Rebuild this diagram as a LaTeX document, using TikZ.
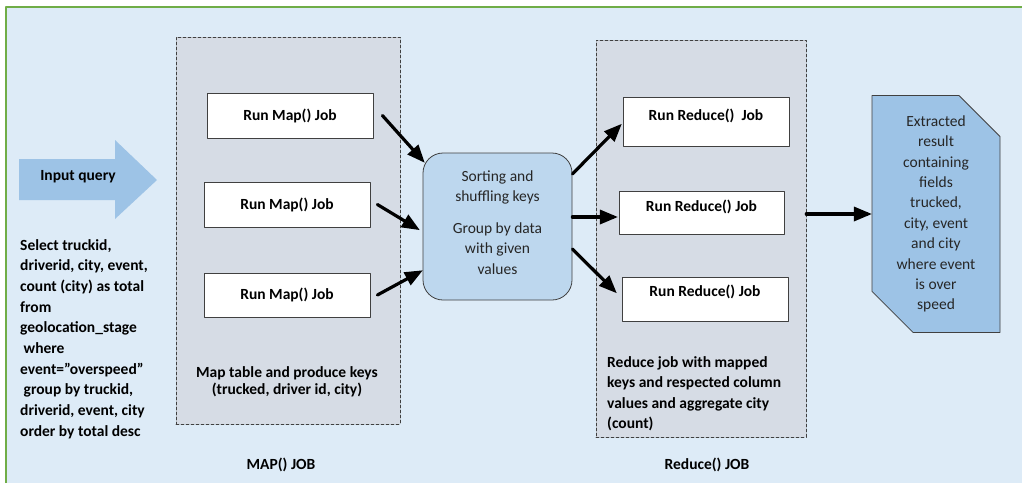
\documentclass[tikz,border=0pt]{standalone}
\usepackage{fontspec}
\setmainfont{Carlito}
\usepackage{tikz}
\usetikzlibrary{arrows}
\usetikzlibrary{positioning}
\usetikzlibrary{calc}
\usetikzlibrary{shapes.misc}
\definecolor{bgblue}{RGB}{221,235,247}
\definecolor{grpgray}{RGB}{214,220,229}
\definecolor{sortblue}{RGB}{189,215,238}
\definecolor{resblue}{RGB}{157,195,230}
\definecolor{edgegreen}{RGB}{112,173,71}
\definecolor{edgegray}{RGB}{64,64,64}
\begin{document}
\begin{tikzpicture}[line cap=round,line join=round,>=triangle 45,x=1pt,y=-1pt,
  jobbox/.style={draw=edgegray,line width=0.8pt,fill=white,inner sep=0pt,font=\bfseries\fontsize{15.5}{18}\selectfont},
  grpbox/.style={draw=edgegray,densely dashed,line width=0.6pt,fill=grpgray,inner sep=0pt},
  flow/.style={->,line width=3.2pt,black}]
\useasboundingbox (0,0) rectangle (1022,483);
\fill [bgblue] (6,7) rectangle (1022,483);
\draw [edgegreen,line width=1.5pt,line cap=butt] (6,483) -- (6,7) -- (1022,7);
\fill [resblue] (19,159) -- (115,159) -- (115,140) -- (157,180) -- (115,219) -- (115,200) -- (19,200) -- cycle;
\node [inner sep=0pt,font=\bfseries\fontsize{15.5}{18}\selectfont] (inq) at (78,177) {Input query};
\node [anchor=north west,align=left,inner sep=0pt,font=\bfseries\fontsize{15.5}{20.7}\selectfont] (qry) at (20,239) {Select truckid,\\driverid, city, event,\\count (city) as total\\from\\geolocation\_stage\\\ where\\event="overspeed"\\\ group by truckid,\\driverid, event, city\\order by total desc};
\node [grpbox,minimum width=224,minimum height=387] (mapbox) at (288,230.5) {};
\node [grpbox,minimum width=210,minimum height=397] (redbox) at (701,238.5) {};
\node [jobbox,minimum width=166,minimum height=45] (map1) at (290,115.5) {Run Map() Job};
\node [jobbox,minimum width=166,minimum height=45] (map2) at (287,204.5) {Run Map() Job};
\node [jobbox,minimum width=166,minimum height=44] (map3) at (287,295) {Run Map() Job};
\node [align=center,inner sep=0pt,font=\bfseries\fontsize{15.5}{16.5}\selectfont] (maptxt) at (287,382) {Map table and produce keys\\(trucked, driver id, city)};
\node [jobbox,minimum width=166,minimum height=49,text depth=14pt] (red1) at (706,121.5) {Run Reduce()\ \ Job};
\node [jobbox,minimum width=165,minimum height=43,text depth=13pt] (red2) at (701.5,212.5) {Run Reduce() Job};
\node [jobbox,minimum width=166,minimum height=44,text depth=16pt] (red3) at (705,299) {Run Reduce() Job};
\node [anchor=north west,align=left,inner sep=0pt,font=\bfseries\fontsize{15.5}{20.5}\selectfont] (redtxt) at (607,356) {Reduce job with mapped\\keys and respected column\\values and aggregate city\\(count)};
\node [draw=edgegray,line width=0.8pt,fill=sortblue,rounded corners=20pt,minimum width=149,minimum height=147,align=center,inner sep=0pt,text=black!85,font=\fontsize{15.5}{20.5}\selectfont] (sort) at (497.5,226.5) {Sorting and\\shuffling keys\\[11pt]Group by data\\with given\\values\\[-12pt]};
\node [chamfered rectangle,chamfered rectangle corners={north east,south west},chamfered rectangle xsep=21pt,chamfered rectangle ysep=20pt,draw=edgegray,line width=0.8pt,fill=resblue,minimum width=128,minimum height=236,inner sep=0pt,align=center,text=black!85,font=\fontsize{15.5}{20.4}\selectfont] (res) at (936,214) {Extracted\\result\\containing\\fields\\trucked,\\city, event\\and city\\where event\\is over\\speed};
\node [font=\bfseries\fontsize{15.5}{18}\selectfont] (maplbl) at (281,465) {MAP() JOB};
\node [font=\bfseries\fontsize{15.5}{18}\selectfont] (redlbl) at (707,465) {Reduce() JOB};
\draw [flow] ($(map1.east)+(9,0)$) -- ($(sort.north west)+(2,10)$);
\draw [flow] ($(map2.east)+(7,0)$) -- ($(sort.west)+(-3,3.5)$);
\draw [flow] ($(map3.east)+(7,0)$) -- ($(sort.south west)+(0,-30)$);
\draw [flow] ($(sort.east)+(0,-52.5)$) -- ($(red1.west)+(-1,2.5)$);
\draw [flow] ($(sort.east)+(0,-9.5)$) -- ($(red2.west)+(-1,4.5)$);
\draw [flow] ($(sort.east)+(0,22.5)$) -- ($(red3.west)+(-5,-6)$);
\draw [flow] (redbox.east |- res.west) -- (res.west);
\end{tikzpicture}
\end{document}
